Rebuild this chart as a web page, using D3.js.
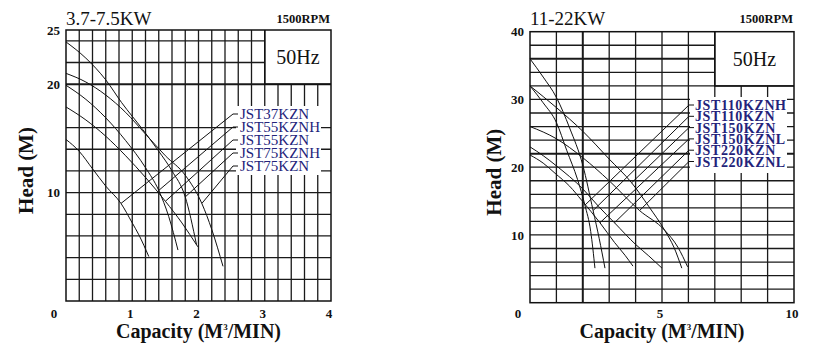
<!DOCTYPE html>
<html>
<head>
<meta charset="utf-8">
<script src="https://cdn.jsdelivr.net/npm/d3@7"></script>
<style>
body{margin:0;background:#fff}
svg text{font-family:"Liberation Serif","Times New Roman",serif;fill:#111}
</style>
</head>
<body>
<svg id="chart" width="817" height="347"></svg>
<script>
// ---- left panel: 3.7-7.5KW ----
var leftModels = ['JST37KZN', 'JST55KZNH', 'JST55KZN', 'JST75KZNH', 'JST75KZN']
var leftCurves = [
  [[0,14.9],[0.2,13.8],[0.4,12.2],[0.6,10.6],[0.83,9.0],[1.0,7.2],[1.1,6.1],[1.25,4.1]],
  [[0,19.9],[0.3,18.6],[0.6,16.9],[0.9,14.8],[1.2,12.3],[1.4,10.2],[1.55,7.8],[1.69,4.7]],
  [[0,17.9],[0.3,16.7],[0.6,15.2],[0.9,13.4],[1.2,11.4],[1.5,9.2],[1.75,7.2],[1.99,5.0]],
  [[0,23.9],[0.3,22.4],[0.6,20.4],[0.84,18.3],[1.16,15.8],[1.39,13.9],[1.6,12.0],[1.8,9.6],[1.97,5.2]],
  [[0,21.0],[0.3,20.2],[0.6,19.0],[0.9,17.4],[1.2,15.4],[1.5,13.4],[1.8,11.6],[2.05,9.0],[2.2,6.6],[2.37,3.2]]
]
var leftLeaders = [[0.83,9.0],[1.4,10.2],[1.5,9.2],[1.8,9.6],[2.05,9.0]]
var leftXTicks = [0, 1, 2, 3, 4]
var leftYTicks = [10, 20, 25]
var leftHGrid = [2, 4, 6, 8, 10, 12, 14, 16, 20, 22, 24]
var leftVGrid = d3.range(1, 20).map(i => i * 0.2)

// ---- right panel: 11-22KW ----
var rightModels = ['JST110KZNH', 'JST110KZN', 'JST150KZN', 'JST150KZNL', 'JST220KZN', 'JST220KZNL']
var rightCurves = [
  [[0,32],[0.5,29.5],[1,26.6],[1.39,22.5],[1.8,18.2],[2.08,14.4],[2.3,10.5],[2.46,5.1]],
  [[0,36],[0.5,33.3],[1,30.3],[1.5,25.8],[2.0,20.3],[2.39,13.6],[2.62,9.5],[2.84,5.1]],
  [[0,32],[1,28.8],[2,25.3],[3,21.2],[3.85,17.7],[4.5,14.2],[5.1,10.7],[5.45,8.2],[5.75,5.1]],
  [[0,21.8],[0.5,20.6],[0.95,19.1],[1.5,17.2],[1.96,15.1],[2.65,11.8],[3.2,8.9],[3.6,7.0],[3.9,5.4]],
  [[0,23],[0.5,21.7],[1,20.2],[2,16.8],[2.6,14.2],[3.2,11.8],[4,8.6],[4.5,6.9],[5,5.1]],
  [[0,26],[1,24.2],[2,21.4],[3,18],[4.15,13.6],[5.1,10.7],[5.6,8.2],[5.97,5.3]]
]
var rightLeaders = [[2.08,14.4],[2.39,13.6],[3.85,17.7],[2.65,11.8],[3.2,11.8],[4.15,13.6]]
var rightXTicks = [0, 5, 10]
var rightYTicks = [10, 20, 30, 40]
var rightHGrid = d3.range(1, 20).map(i => i * 2)
var rightVGrid = d3.range(1, 10)

var svg = d3.select('#chart')

function panel(c) {
  var x = d3.scaleLinear().domain([0, c.xMax]).range(c.xRange)
  var y = d3.scaleLinear().domain([0, c.yMax]).range(c.yRange)
  var g = svg.append('g')

  // grid, stopping at the 50Hz box
  g.selectAll('line.v').data(c.vGrid).join('line')
    .attr('x1', d => x(d)).attr('x2', d => x(d))
    .attr('y1', y(0)).attr('y2', d => y(d > c.box[0] ? c.box[1] : c.yMax))
    .attr('stroke', '#1a1a1a').attr('stroke-width', d => c.thickV.includes(d) ? 2 : 1.3)
  g.selectAll('line.h').data(c.hGrid).join('line')
    .attr('y1', d => y(d)).attr('y2', d => y(d))
    .attr('x1', x(0)).attr('x2', d => x(d > c.box[1] ? c.box[0] : c.xMax))
    .attr('stroke', '#1a1a1a').attr('stroke-width', d => c.thickH.includes(d) ? 2 : 1.3)
  g.append('rect')
    .attr('x', x(0)).attr('y', y(c.yMax))
    .attr('width', x(c.xMax) - x(0)).attr('height', y(0) - y(c.yMax))
    .attr('fill', 'none').attr('stroke', '#111').attr('stroke-width', 1.5)
  // box outline
  g.append('path')
    .attr('d', d3.line()([[x(c.box[0]), y(c.yMax)], [x(c.box[0]), y(c.box[1])], [x(c.xMax), y(c.box[1])]]))
    .attr('fill', 'none').attr('stroke', '#111').attr('stroke-width', 1.5)

  // curves
  var line = d3.line().x(d => x(d[0])).y(d => y(d[1])).curve(d3.curveMonotoneX)
  g.selectAll('path.curve').data(c.curves).join('path')
    .attr('d', line).attr('fill', 'none').attr('stroke', '#111').attr('stroke-width', 1)

  // labels with white backing and leader lines
  g.append('rect')
    .attr('x', c.rect[0]).attr('y', c.rect[1])
    .attr('width', c.rect[2] - c.rect[0]).attr('height', c.rect[3] - c.rect[1])
    .attr('fill', '#fff')
  c.models.forEach((m, i) => {
    var cy = c.labelY + i * c.labelStep
    var t = c.leaders[i]
    g.append('path')
      .attr('d', d3.line()([[x(t[0]), y(t[1])], [c.leaderX, cy], [c.leaderX + 5, cy]]))
      .attr('fill', 'none').attr('stroke', '#111').attr('stroke-width', 1)
    g.append('text')
      .attr('x', c.labelX).attr('y', cy).attr('dy', '0.36em')
      .attr('font-size', c.labelSize).attr('font-weight', c.labelWeight)
      .attr('letter-spacing', c.labelSpacing)
      .style('fill', '#23237a')
      .text(m)
  })

  // tick labels
  g.selectAll('text.yt').data(c.yTicks).join('text')
    .attr('x', x(0) - 6).attr('y', d => y(d)).attr('dy', '0.35em')
    .attr('text-anchor', 'end').attr('font-size', 13).attr('font-weight', 'bold')
    .text(d => d)
  g.selectAll('text.xt').data(c.xTicks).join('text')
    .attr('x', d => d ? x(d) - 2 : x(0) - 12).attr('y', 318)
    .attr('text-anchor', 'middle').attr('font-size', 13).attr('font-weight', 'bold')
    .text(d => d)

  // titles
  g.append('text').attr('x', x(0)).attr('y', 25).attr('font-size', 19).text(c.title)
  g.append('text').attr('x', x(c.xMax) - 1).attr('y', 23).attr('text-anchor', 'end')
    .attr('font-size', 12.5).attr('font-weight', 'bold').text('1500RPM')
  g.append('text')
    .attr('x', (x(c.box[0]) + x(c.xMax)) / 2).attr('y', (y(c.yMax) + y(c.box[1])) / 2 + 7)
    .attr('text-anchor', 'middle').attr('font-size', 20).text('50Hz')

  var xt = g.append('text')
    .attr('x', (x(0) + x(c.xMax)) / 2).attr('y', 338)
    .attr('text-anchor', 'middle').attr('font-size', 20).attr('font-weight', 'bold')
  xt.append('tspan').text('Capacity (M')
  xt.append('tspan').attr('font-size', 9).attr('dy', -8).text('3')
  xt.append('tspan').attr('dy', 8).text('/MIN)')

  g.append('text')
    .attr('transform', `translate(${c.yTitleX},${(y(0) + y(c.yMax)) / 2 + 5}) rotate(-90)`)
    .attr('text-anchor', 'middle').attr('font-size', 21).attr('font-weight', 'bold')
    .text('Head (M)')
}

panel({
  title: '3.7-7.5KW', xMax: 4, yMax: 25, xRange: [66, 331], yRange: [301, 30],
  vGrid: leftVGrid, hGrid: leftHGrid, thickV: [], thickH: [20], box: [3, 20],
  curves: leftCurves, models: leftModels, leaders: leftLeaders,
  labelWeight: 'normal', labelSize: 15, labelSpacing: 0,
  rect: [236, 106, 321, 175], leaderX: 233, labelX: 240, labelY: 114, labelStep: 13,
  xTicks: leftXTicks, yTicks: leftYTicks, yTitleX: 33
})

panel({
  title: '11-22KW', xMax: 10, yMax: 40, xRange: [530, 794], yRange: [302.7, 31.7],
  vGrid: rightVGrid, hGrid: rightHGrid, thickV: [2], thickH: [22, 36], box: [7, 32],
  curves: rightCurves, models: rightModels, leaders: rightLeaders,
  labelWeight: 'bold', labelSize: 14, labelSpacing: 0.6,
  rect: [690, 97, 787, 173], leaderX: 689, labelX: 695, labelY: 105, labelStep: 11.3,
  xTicks: rightXTicks, yTicks: rightYTicks, yTitleX: 501
})
</script>
</body>
</html>
